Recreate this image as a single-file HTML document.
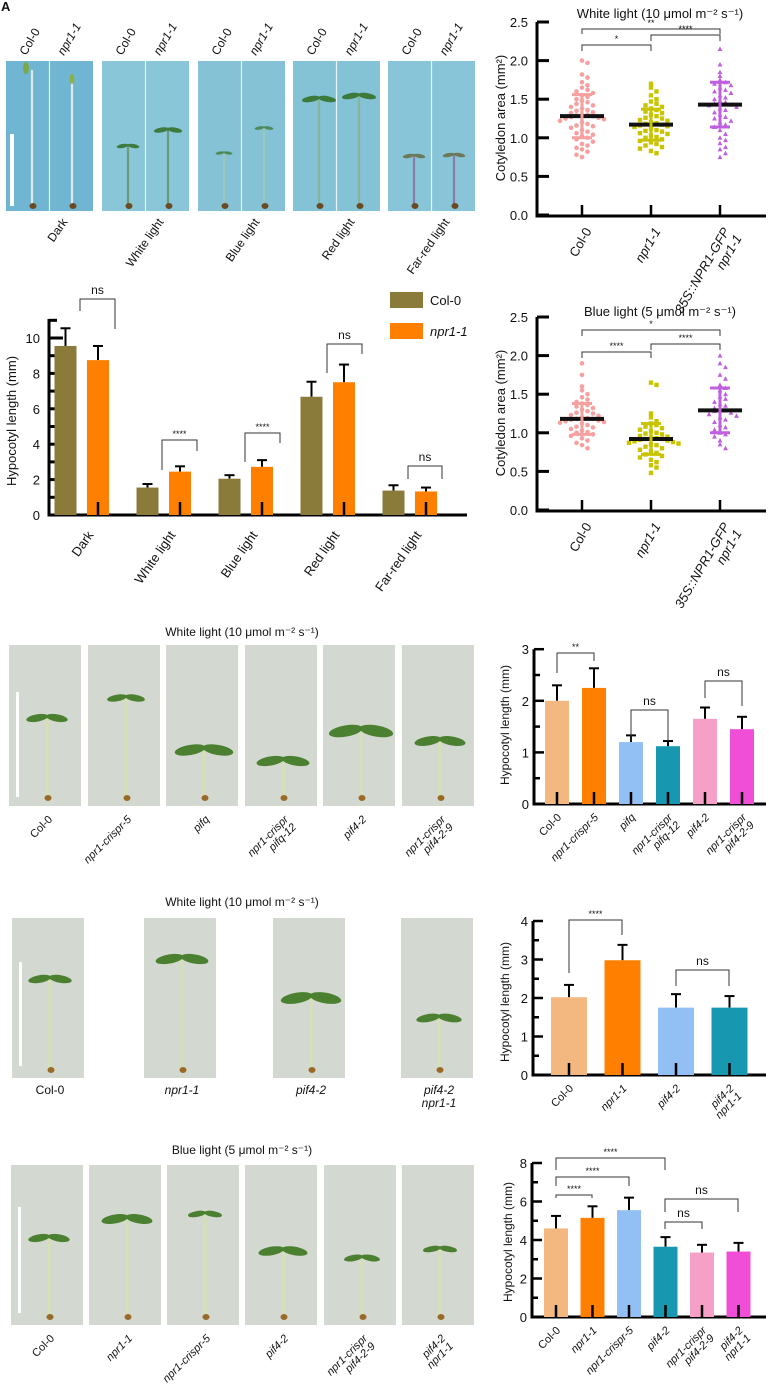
<!DOCTYPE html>
<html><head><meta charset="utf-8"><style>
html,body{margin:0;padding:0;background:#fff;}
svg{display:block;font-family:"Liberation Sans",sans-serif;}
</style></head><body>
<svg id="fig" width="769" height="1395" viewBox="0 0 769 1395" xmlns="http://www.w3.org/2000/svg"></svg>
<script>
// ---------- DATA ----------
const topCats = ['Dark','White light','Blue light','Red light','Far-red light'];
const topCol = [9.55,1.55,2.05,6.68,1.38];
const topColSd = [1.0,0.2,0.2,0.85,0.3];
const topNpr = [8.75,2.45,2.72,7.5,1.33];
const topNprSd = [0.8,0.3,0.38,1.0,0.22];
const topTicks = [0,2,4,6,8,10];

const scatCats = ['Col-0','npr1-1','35S::NPR1-GFP'];
const scatTicks = [0.0,0.5,1.0,1.5,2.0,2.5];
const wCol = [2.0,1.97,1.82,1.78,1.72,1.68,1.65,1.62,1.6,1.58,1.55,1.53,1.5,1.48,1.46,1.44,1.42,1.4,1.38,1.36,1.35,1.33,1.32,1.3,1.3,1.29,1.28,1.27,1.26,1.25,1.24,1.22,1.2,1.18,1.16,1.15,1.13,1.1,1.08,1.06,1.04,1.02,1.0,0.98,0.95,0.92,0.9,0.87,0.85,0.82,0.78,0.75];
const wNpr = [1.7,1.65,1.6,1.55,1.5,1.47,1.44,1.42,1.4,1.38,1.36,1.34,1.32,1.3,1.28,1.26,1.25,1.23,1.22,1.2,1.19,1.18,1.17,1.16,1.15,1.14,1.12,1.1,1.09,1.08,1.06,1.05,1.03,1.01,1.0,0.98,0.96,0.94,0.92,0.9,0.88,0.86,0.83,0.8];
const w35S = [2.15,1.95,1.85,1.8,1.75,1.72,1.7,1.68,1.65,1.62,1.6,1.58,1.55,1.52,1.5,1.48,1.46,1.44,1.43,1.42,1.4,1.38,1.36,1.33,1.3,1.27,1.25,1.22,1.2,1.17,1.14,1.1,1.05,1.0,0.97,0.93,0.88,0.85,0.8,0.75];
const wMean = [1.28,1.17,1.43];
const wSd = [0.28,0.2,0.29];
const bCol = [1.9,1.75,1.6,1.55,1.5,1.46,1.43,1.4,1.38,1.36,1.34,1.32,1.3,1.28,1.26,1.25,1.23,1.22,1.2,1.19,1.18,1.18,1.17,1.16,1.15,1.14,1.13,1.12,1.1,1.08,1.07,1.05,1.03,1.01,1.0,0.98,0.96,0.93,0.9,0.87,0.84,0.8];
const bNpr = [1.65,1.62,1.25,1.2,1.15,1.12,1.1,1.08,1.06,1.04,1.02,1.0,0.99,0.98,0.96,0.95,0.94,0.93,0.92,0.92,0.91,0.9,0.89,0.88,0.87,0.86,0.85,0.84,0.82,0.8,0.78,0.76,0.74,0.72,0.7,0.68,0.65,0.62,0.58,0.55,0.48];
const b35S = [2.0,1.9,1.85,1.75,1.7,1.62,1.58,1.55,1.5,1.47,1.44,1.4,1.37,1.35,1.32,1.3,1.29,1.28,1.26,1.24,1.22,1.2,1.17,1.14,1.1,1.07,1.04,1.0,0.98,0.95,0.9,0.85,0.8];
const bMean = [1.18,0.92,1.29];
const bSd = [0.2,0.2,0.29];

const cCats = ['Col-0','npr1-crispr-5','pifq','npr1-crispr|pifq-12','pif4-2','npr1-crispr|pif4-2-9'];
const cVals = [2.0,2.25,1.2,1.12,1.65,1.45];
const cSds = [0.3,0.38,0.13,0.1,0.22,0.24];
const cTicks = [0,1,2,3];
const dCats = ['Col-0','npr1-1','pif4-2','pif4-2|npr1-1'];
const dVals = [2.02,2.98,1.75,1.75];
const dSds = [0.32,0.4,0.35,0.3];
const dTicks = [0,1,2,3,4];
const eCats = ['Col-0','npr1-1','npr1-crispr-5','pif4-2','npr1-crispr|pif4-2-9','pif4-2|npr1-1'];
const eVals = [4.6,5.15,5.55,3.65,3.35,3.4];
const eSds = [0.65,0.6,0.65,0.5,0.4,0.45];
const eTicks = [0,2,4,6,8];

// ---------- HELPERS ----------
const NS='http://www.w3.org/2000/svg';
const svg=document.getElementById('fig');
function mk(tag,attrs,parent){const e=document.createElementNS(NS,tag);for(const k in attrs)e.setAttribute(k,attrs[k]);(parent||svg).appendChild(e);return e;}
function txt(x,y,s,opts,parent){opts=opts||{};const t=mk('text',{x:x,y:y,'font-size':opts.fs||12,fill:'#111','text-anchor':opts.anchor||'middle','font-style':opts.it?'italic':'normal'},parent);
 if(opts.rot!==undefined)t.setAttribute('transform','rotate('+opts.rot+' '+x+' '+y+')');
 const lines=s.split('|');lines.forEach((l,i)=>{const ts=mk('tspan',{x:x,dy:i?(opts.lh||12):0},t);ts.textContent=l;});return t;}
function line(x1,y1,x2,y2,w,c,parent){return mk('line',{x1:x1,y1:y1,x2:x2,y2:y2,stroke:c||'#111','stroke-width':w||1},parent);}
function bracket(x1,x2,yL,yR,yT,label,parent){const p=mk('path',{d:'M'+x1+' '+yL+'V'+yT+'H'+x2+'V'+yR,fill:'none',stroke:'#333','stroke-width':1},parent);
 
 
 const t=txt((x1+x2)/2,yT-(label==='ns'?5:3),label,{fs:label==='ns'?12:9},parent);
 
 }
function seedling(g,cx,top,bot,leaf,stem,leafC,seed,sw){
 line(cx,top,cx,bot,sw||2.2,stem,g);
 if(leaf>0){mk('ellipse',{cx:cx-leaf*0.9,cy:top+1,rx:leaf,ry:leaf*0.33,fill:leafC,transform:'rotate(-10 '+(cx-leaf*0.9)+' '+(top+1)+')'},g);
 mk('ellipse',{cx:cx+leaf*0.9,cy:top+1,rx:leaf,ry:leaf*0.33,fill:leafC,transform:'rotate(10 '+(cx+leaf*0.9)+' '+(top+1)+')'},g);}
 mk('ellipse',{cx:cx+1,cy:bot,rx:3.5,ry:3,fill:seed||'#6b4a22'},g);}

// ---------- PANEL A: photos ----------
const gA=mk('g',{});


txt(1,11,'A',{fs:13,anchor:'start'},gA).setAttribute('font-weight','bold');
const aPanels=[6,102,198,293,388];
const aBg=['#70b5d1','#88c6d8','#85c2d6','#84c2d6','#88c5d8'];
const aSeed=[[70,0,'#dfe9ec','#7aa84a'],[145,6,'#6b9a78','#3e7a3e'],[152,4.5,'#9ac7b8','#4c8a5a'],[98,9,'#88b49a','#3c7a3c'],[155,6,'#8a7aa8','#6a7a58']];
const aSeed2=[[77,0],[129,7.5],[127,5],[95,9],[154,6]];
aPanels.forEach((x,i)=>{
 const r=mk('rect',{x:x,y:61,width:87,height:150,fill:aBg[i]},gA);
 
 
 line(x+43.5,61,x+43.5,211,1.2,'#e8f4f8',gA);
 seedling(gA,x+26,aSeed[i][0],206,aSeed[i][1],aSeed[i][2],aSeed[i][3]);
 seedling(gA,x+66,aSeed2[i][0],206,aSeed2[i][1],aSeed[i][2],aSeed[i][3]);
 if(i===0){mk('ellipse',{cx:x+20,cy:68,rx:3,ry:6,fill:'#7aa84a'},gA);mk('ellipse',{cx:x+66,cy:79,rx:2.5,ry:5,fill:'#8ab04a'},gA);}
 txt(x+20,56,'Col-0',{fs:12,anchor:'start',rot:-60},gA);
 txt(x+58,56,'npr1-1',{fs:12,anchor:'start',rot:-60,it:true},gA);
 txt(x+62,222,topCats[i],{fs:12,anchor:'end',rot:-55},gA);
});
const sb=mk('rect',{x:10,y:134,width:4,height:72,fill:'#fff'},gA);



// ---------- Generic bar chart ----------
function barChart(name,cfg,cats,vals,sds,colors,ticks){
 const g=mk('g',{});
 
 
 const ys=v=>cfg.y0-v*cfg.k;
 const xs=i=>cfg.x0+i*cfg.dx;
 line(cfg.ax,cfg.y0,cfg.ax,ys(cfg.top),3,'#000',g);
 line(cfg.ax-1.5,cfg.y0,cfg.xEnd,cfg.y0,3,'#000',g);
 const st=ticks[1]-ticks[0];
 ticks.forEach((t,i)=>{line(cfg.ax,ys(t),cfg.ax+10,ys(t),2.5,'#000',g);
  if(i<ticks.length-1)line(cfg.ax,ys(t+st/2),cfg.ax+6,ys(t+st/2),2.5,'#000',g);
  const tl=txt(cfg.ax-5,ys(t)+5,String(t),{fs:13,anchor:'end'},g);
  
  });
 vals.forEach((v,i)=>{const cx=xs(i);
  line(cx,ys(v),cx,ys(v+sds[i]),2,'#000',g);line(cx-5,ys(v+sds[i]),cx+5,ys(v+sds[i]),2,'#000',g);
  const b=mk('rect',{x:cx-cfg.bw/2,y:ys(v),width:cfg.bw,height:v*cfg.k,fill:colors[i]},g);
  
  
  line(cx,cfg.y0,cx,cfg.y0-12,2.5,'#000',g);
  const lt=txt(cx+5,cfg.y0+14,cats[i],{fs:11,anchor:'end',rot:-45,it:i>0,lh:11},g);
  
  });
 const yt=txt(cfg.tx,cfg.ty,'Hypocotyl length (mm)',{fs:12,rot:-90},g);
 
 
 return {g:g,ys:ys,xs:xs};
}

// ---------- PANEL A bar chart ----------
(function(){
 const g=mk('g',{});
 
 
 const y0=515,k=17.7,ys=v=>y0-v*k;
 const gx=i=>82+i*82;
 line(49,y0,49,319,3,'#000',g);line(47.5,y0,467,y0,3,'#000',g);
 topTicks.forEach(t=>{line(49,ys(t),63,ys(t),3,'#000',g);line(49,ys(t+1),57,ys(t+1),3,'#000',g);
  txt(40,ys(t)+5,String(t),{fs:13,anchor:'end'},g);});
 topCats.forEach((c,i)=>{
  [[topCol,topColSd,'#8b7b3b',-16.5],[topNpr,topNprSd,'#ff8000',16]].forEach(s=>{
   const cx=gx(i)+s[3],v=s[0][i],sd=s[1][i];
   line(cx,ys(v),cx,ys(v+sd),2,'#000',g);line(cx-5,ys(v+sd),cx+5,ys(v+sd),2,'#000',g);
   const b=mk('rect',{x:cx-11,y:ys(v),width:22,height:v*k,fill:s[2]},g);
   
   });
  line(gx(i)+16,y0,gx(i)+16,y0-13,2.5,'#000',g);
  txt(gx(i)+12,y0+20,c,{fs:13,anchor:'end',rot:-55},g);
 });
 txt(16,421,'Hypocotyl length (mm)',{fs:13,rot:-90},g);
 bracket(80,115,311,329,299,'ns',g);
 bracket(162,197,470,451,440,'****',g);
 bracket(245,280,462,443,433,'****',g);
 bracket(327,362,373,354,344,'ns',g);
 bracket(408,442,479,479,466,'ns',g);
 const l1=mk('rect',{x:390,y:292,width:33,height:16,fill:'#8b7b3b'},g);
 
 
 txt(430,305,'Col-0',{fs:13,anchor:'start'},g);
 const l2=mk('rect',{x:390,y:323,width:33,height:16,fill:'#ff8000'},g);
 
 
 txt(430,336,'npr1-1',{fs:13,anchor:'start',it:true},g);
})();

// ---------- Scatter charts ----------
function scatter(name,y0,title,titleY,groups,means,sds){
 const g=mk('g',{});
 
 
 const k=77.2,ys=v=>y0-v*k,xs=i=>582+i*69;
 const cols=['#f7a0a0','#c8c400','#c060e0'];
 line(537,y0+1,537,ys(2.5),3,'#000',g);line(535.5,y0+1,766,y0+1,3,'#000',g);
 scatTicks.forEach(t=>{line(537,ys(t),549,ys(t),3,'#000',g);
  txt(528,ys(t)+5,t.toFixed(1),{fs:13,anchor:'end'},g);});
 groups.forEach((vals,i)=>{
  const bins={};
  vals.forEach(v=>{const b=Math.round(v/0.09);bins[b]=(bins[b]||0)+1;const n=bins[b]-1;
   const off=(n%2?1:-1)*Math.ceil(n/2)*5.5;
   let p;
   if(i===0)p=mk('circle',{cx:xs(i)+off,cy:ys(v),r:2.3,fill:cols[i]},g);
   else if(i===1)p=mk('rect',{x:xs(i)+off-2.2,y:ys(v)-2.2,width:4.4,height:4.4,fill:cols[i]},g);
   else{const x=xs(i)+off,y=ys(v);p=mk('path',{d:'M'+x+' '+(y-2.6)+'L'+(x+2.4)+' '+(y+2)+'L'+(x-2.4)+' '+(y+2)+'Z',fill:cols[i]},g);}
   
   });
  const x=xs(i),m=means[i],s=sds[i];
  line(x-22,ys(m),x+22,ys(m),4,'#111',g);
  line(x,ys(m+s),x,ys(m-s),3,cols[i],g);
  line(x-10,ys(m+s),x+10,ys(m+s),3,cols[i],g);line(x-10,ys(m-s),x+10,ys(m-s),3,cols[i],g);
  line(x,y0,x,y0-10,2.5,'#000',g);
 });
 txt(592,y0+16,'Col-0',{fs:13,anchor:'end',rot:-60},g);
 txt(661,y0+16,'npr1-1',{fs:13,anchor:'end',rot:-60,it:true},g);
 txt(730,y0+16,'35S::NPR1-GFP|npr1-1',{fs:13,anchor:'end',rot:-60,it:true,lh:14},g);
 txt(505,y0-97,'Cotyledon area (mm²)',{fs:13,rot:-90},g);
 const tt=txt(660,titleY,title,{fs:13},g);
 
 
 return {g:g,xs:xs};
}
const s1=scatter('cotyledon-white-chart',215,'White light (10 μmol m⁻² s⁻¹)',18,[wCol,wNpr,w35S],wMean,wSd);
bracket(582,720,34,34,29,'**',s1.g);
bracket(582,651,51,51,45,'*',s1.g);
bracket(651,720,41,41,35,'****',s1.g);
const s2=scatter('cotyledon-blue-chart',510,'Blue light (5 μmol m⁻² s⁻¹)',316,[bCol,bNpr,b35S],bMean,bSd);
bracket(582,720,336,336,330,'*',s2.g);
bracket(582,651,358,358,352,'****',s2.g);
bracket(651,720,350,350,344,'****',s2.g);

// ---------- Lower photo rows ----------
function photoRow(name,title,titleY,xsArr,y1,y2,labels,tops,leafs,labelStraight,sbY){
 const g=mk('g',{});
 
 
 const tt=txt(242,titleY,title,{fs:12},g);
 
 
 xsArr.forEach((x,i)=>{
  const r=mk('rect',{x:x,y:y1,width:72,height:y2-y1,fill:'#d3d8d1'},g);
  
  
  seedling(g,x+38,tops[i],y2-8,leafs[i],'#d5e0b8','#4a8030','#9a6a28',3.5);
  if(labelStraight)txt(x+38,y2+16,labels[i],{fs:12,it:i>0,lh:13},g);
  else txt(x+44,y2+14,labels[i],{fs:11,anchor:'end',rot:-45,it:i>0,lh:11},g);
 });
 const sb=mk('rect',{x:xsArr[0]+7,y:sbY[0],width:3,height:sbY[1]-sbY[0],fill:'#fff'},g);
 
 
}
photoRow('panel-c-photos','White light (10 μmol m⁻² s⁻¹)',636,[9,88,166,245,323,402],645,806,cCats,[717,697,749,760,730,740],[11,10,15.5,14,17,13.5],false,[692,797]);
photoRow('panel-d-photos','White light (10 μmol m⁻² s⁻¹)',906,[12,144,273,401],918,1078,['Col-0','npr1-1','pif4-2','pif4-2|npr1-1'],[978,958,997,1017],[11.5,14,16,12],true,[962,1066]);
photoRow('panel-e-photos','Blue light (5 μmol m⁻² s⁻¹)',1154,[11,89,167,245,324,402],1165,1325,eCats,[1237,1218,1213,1250,1257,1248],[11,13.5,9,13,9.5,9],false,[1207,1313]);

// ---------- Lower bar charts ----------
const c1=barChart('hypocotyl-chart-c',{x0:557,dx:37,bw:24,y0:804,k:51.6,top:3,ax:534,xEnd:766,tx:509,ty:725},cCats,cVals,cSds,['#f2b880','#ff8000','#92c0f4','#1898b0','#f6a0c8','#f04ed6'],cTicks);
bracket(557,594,673,661,653,'**',c1.g);
bracket(631,668,741,741,710,'ns',c1.g);
bracket(705,742,698,706,681,'ns',c1.g);
const d1=barChart('hypocotyl-chart-d',{x0:569,dx:53.5,bw:36,y0:1075,k:38.5,top:4,ax:533,xEnd:766,tx:509,ty:1002},dCats,dVals,dSds,['#f2b880','#ff8000','#92c0f4','#1898b0'],dTicks);
bracket(569,622,973,935,920,'****',d1.g);
bracket(676,729,986,986,970,'ns',d1.g);
const e1=barChart('hypocotyl-chart-e',{x0:556,dx:36.5,bw:24,y0:1317,k:19.25,top:8,ax:532,xEnd:766,tx:512,ty:1242},eCats,eVals,eSds,['#f2b880','#ff8000','#92c0f4','#1898b0','#f6a0c8','#f04ed6'],eTicks);
bracket(556,665,1170,1170,1158,'****',e1.g);
bracket(556,629,1186,1186,1177,'****',e1.g);
bracket(556,592,1198,1198,1195,'****',e1.g);
bracket(665,738,1212,1212,1199,'ns',e1.g);
bracket(665,702,1229,1229,1222,'ns',e1.g);
</script>
</body></html>
